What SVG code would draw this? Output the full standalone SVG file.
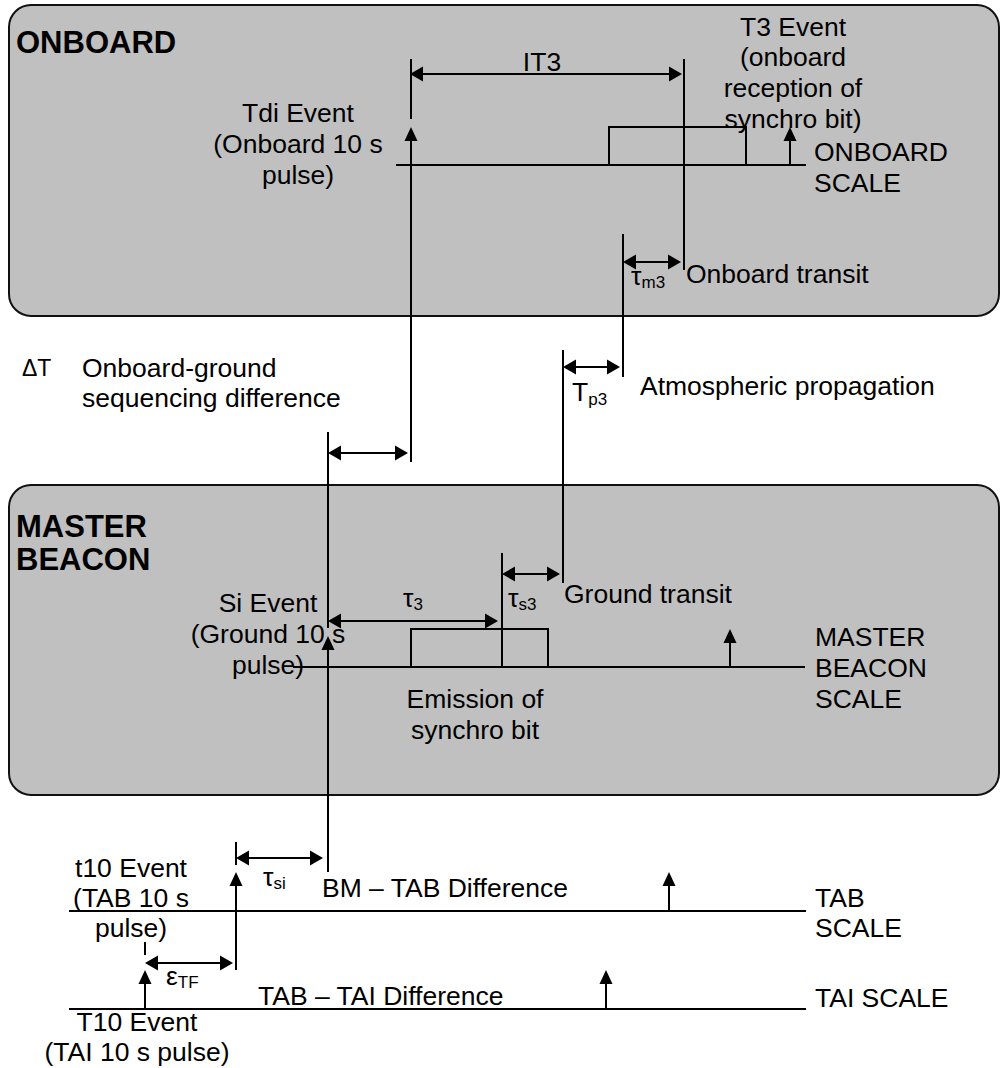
<svg xmlns="http://www.w3.org/2000/svg" width="1001" height="1068" viewBox="0 0 1001 1068">
<style>
text{font-family:"Liberation Sans",Arial,sans-serif;font-size:26.5px;fill:#000}
.h{font-weight:bold;font-size:31px}
.m{text-anchor:middle}
.sub{font-size:17px}
.box{fill:#c0c0c0;stroke:#111;stroke-width:2}
.ln{stroke:#000;stroke-width:2;fill:none}
.ah{fill:#000}
</style>
<defs>
<path id="up" class="ah" d="M0,0 L-6.5,14 L6.5,14 Z"/>
<path id="lt" class="ah" d="M0,0 L13,-7.5 L13,7.5 Z"/>
<path id="rt" class="ah" d="M0,0 L-13,-7.5 L-13,7.5 Z"/>
</defs>
<rect width="1001" height="1068" fill="#fff"/>
<g id="onboard">
<rect class="box" x="9" y="5" width="990" height="311" rx="22"/>
<text class="h" x="16" y="53">ONBOARD</text>
</g>
<g id="master">
<rect class="box" x="9" y="485" width="990" height="310" rx="22"/>
<text class="h" x="16" y="537">MASTER</text>
<text class="h" x="16" y="570">BEACON</text>
</g>
<g id="connectors">
<path class="ln" d="M411,59V119 M411,140V462"/>
<use href="#up" x="411" y="127"/>
<path class="ln" d="M423,74H669"/>
<use href="#lt" x="410" y="74"/><use href="#rt" x="682" y="74"/>
<path class="ln" d="M684,59V270"/>
<path class="ln" d="M396,165H806 M609,165V127H746V165"/>
<path class="ln" d="M790,140V165"/>
<use href="#up" x="790" y="127"/>
<path class="ln" d="M623,234V377 M636,262H668"/>
<use href="#lt" x="623" y="262"/><use href="#rt" x="681" y="262"/>
<path class="ln" d="M563,350V583 M576,367H607"/>
<use href="#lt" x="563" y="367"/><use href="#rt" x="620" y="367"/>
<path class="ln" d="M328,432V628 M341,453H395"/>
<use href="#lt" x="328" y="453"/><use href="#rt" x="408" y="453"/>
<path class="ln" d="M502,553V667 M515,574H547"/>
<use href="#lt" x="502" y="574"/><use href="#rt" x="560" y="574"/>
<path class="ln" d="M341,621H485"/>
<use href="#lt" x="328" y="621"/><use href="#rt" x="498" y="621"/>
<path class="ln" d="M328,649V872"/>
<use href="#up" x="328" y="636"/>
<path class="ln" d="M293,667H805 M411,667V629H548V667 M730,642V667"/>
<use href="#up" x="730" y="629"/>
<path class="ln" d="M236,842V865 M249,858H310"/>
<use href="#lt" x="236" y="858"/><use href="#rt" x="323" y="858"/>
<path class="ln" d="M236,885V970"/>
<use href="#up" x="236" y="872"/>
<path class="ln" d="M69,911H806 M669,885V911"/>
<use href="#up" x="669" y="872"/>
<path class="ln" d="M145,942V955 M158,963H220"/>
<use href="#lt" x="145" y="963"/><use href="#rt" x="233" y="963"/>
<path class="ln" d="M145,983V1009 M69,1009H806 M606,983V1009"/>
<use href="#up" x="145" y="970"/><use href="#up" x="606" y="970"/>
</g>
<g id="labels">
<text class="m" x="542" y="71">IT3</text>
<text class="m" x="298" y="122">Tdi Event</text>
<text class="m" x="298" y="153">(Onboard 10 s</text>
<text class="m" x="298" y="184">pulse)</text>
<text class="m" x="793" y="36">T3 Event</text>
<text class="m" x="793" y="66">(onboard</text>
<text class="m" x="793" y="97">reception of</text>
<text class="m" x="793" y="128">synchro bit)</text>
<text x="814" y="161">ONBOARD</text>
<text x="814" y="192">SCALE</text>
<text x="631" y="285">τ<tspan class="sub" dy="3">m3</tspan></text>
<text x="686" y="283">Onboard transit</text>
<text x="22" y="376" style="font-size:23px">ΔT</text>
<text x="82" y="377">Onboard-ground</text>
<text x="82" y="407">sequencing difference</text>
<text x="572" y="401">T<tspan class="sub" dy="4">p3</tspan></text>
<text x="640" y="395">Atmospheric propagation</text>
<text x="403" y="607">τ<tspan class="sub" dy="3">3</tspan></text>
<text x="508" y="607">τ<tspan class="sub" dy="3">s3</tspan></text>
<text x="564" y="603">Ground transit</text>
<text class="m" x="268" y="612">Si Event</text>
<text class="m" x="268" y="643">(Ground 10 s</text>
<text class="m" x="268" y="674">pulse)</text>
<text x="815" y="646">MASTER</text>
<text x="815" y="677">BEACON</text>
<text x="815" y="708">SCALE</text>
<text class="m" x="475" y="708">Emission of</text>
<text class="m" x="475" y="739">synchro bit</text>
<text x="263" y="886">τ<tspan class="sub" dy="3">si</tspan></text>
<text x="322" y="897">BM – TAB Difference</text>
<text class="m" x="131" y="877">t10 Event</text>
<text class="m" x="131" y="907">(TAB 10 s</text>
<text class="m" x="131" y="937">pulse)</text>
<text x="166" y="985">ε<tspan class="sub" dy="3">TF</tspan></text>
<text x="258" y="1005">TAB – TAI Difference</text>
<text x="815" y="907">TAB</text>
<text x="815" y="937">SCALE</text>
<text x="815" y="1007">TAI SCALE</text>
<text class="m" x="137" y="1031">T10 Event</text>
<text class="m" x="137" y="1061">(TAI 10 s pulse)</text>
</g>
</svg>
